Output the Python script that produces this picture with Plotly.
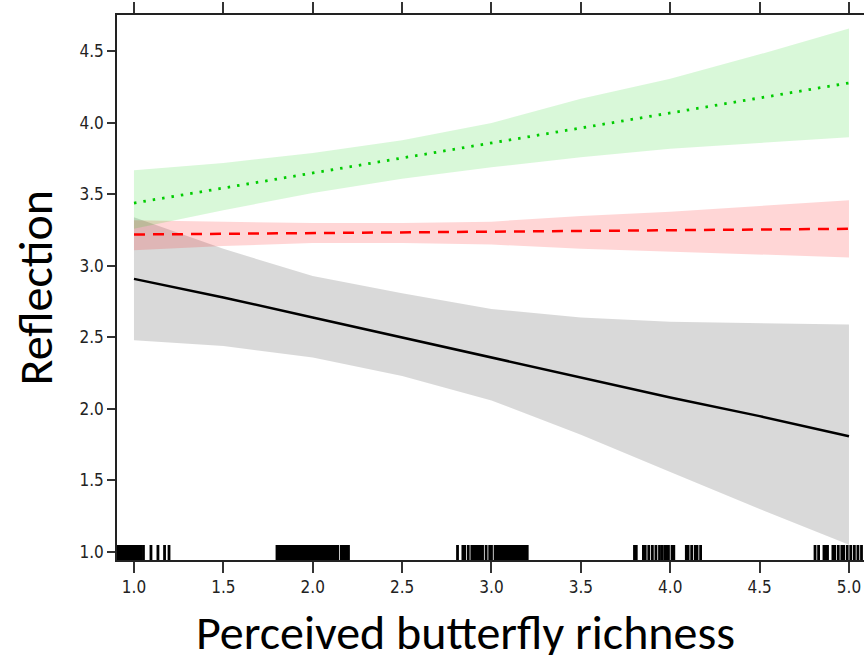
import plotly.graph_objects as go

# Effect of perceived butterfly richness on reflection, three groups
x_grid = [1.0, 1.5, 2.0, 2.5, 3.0, 3.5, 4.0, 4.5, 5.0]

black_fit = [2.91, 2.78, 2.64, 2.50, 2.36, 2.22, 2.08, 1.95, 1.81]
black_lo = [2.48, 2.44, 2.36, 2.23, 2.06, 1.82, 1.56, 1.30, 1.05]
black_hi = [3.34, 3.12, 2.93, 2.81, 2.70, 2.64, 2.61, 2.60, 2.59]

red_fit = [3.22, 3.225, 3.23, 3.235, 3.24, 3.245, 3.25, 3.255, 3.26]
red_lo = [3.11, 3.14, 3.16, 3.16, 3.15, 3.12, 3.10, 3.08, 3.06]
red_hi = [3.32, 3.31, 3.30, 3.30, 3.31, 3.35, 3.38, 3.42, 3.46]

green_fit = [3.44, 3.545, 3.65, 3.755, 3.86, 3.965, 4.07, 4.175, 4.28]
green_lo = [3.26, 3.39, 3.51, 3.61, 3.69, 3.76, 3.82, 3.86, 3.90]
green_hi = [3.67, 3.72, 3.79, 3.88, 4.00, 4.17, 4.31, 4.48, 4.66]

# Observed (jittered) predictor values shown as a rug
rug_x = [
    0.91, 0.92, 0.93, 0.94, 0.95, 0.96, 0.97, 0.98, 0.99, 1.00, 1.01, 1.02,
    1.03, 1.04, 1.053, 1.095, 1.134, 1.171, 1.196,
    1.80, 1.81, 1.82, 1.83, 1.84, 1.85, 1.86, 1.87, 1.88, 1.89, 1.90, 1.91,
    1.92, 1.93, 1.94, 1.95, 1.96, 1.97, 1.98, 1.99, 2.00, 2.01, 2.02, 2.03,
    2.04, 2.05, 2.06, 2.07, 2.08, 2.09, 2.10, 2.11, 2.12, 2.13, 2.14,
    2.16, 2.17, 2.18, 2.19, 2.20,
    2.81, 2.84, 2.85, 2.87, 2.89, 2.90, 2.91, 2.92, 2.93, 2.94, 2.95, 2.97,
    2.99, 3.00, 3.02, 3.03, 3.04, 3.05, 3.06, 3.07, 3.08, 3.09, 3.10, 3.11,
    3.12, 3.13, 3.14, 3.15, 3.16, 3.17, 3.18, 3.19, 3.20,
    3.80, 3.81, 3.85, 3.86, 3.88, 3.90, 3.92, 3.94, 3.955, 3.97, 3.98, 3.99,
    4.01, 4.02, 4.09, 4.10, 4.12, 4.14, 4.15, 4.17,
    4.81, 4.83, 4.86, 4.87, 4.88, 4.91, 4.92, 4.94, 4.96, 4.97, 4.99, 5.01,
    5.03, 5.05, 5.07,
]
# rug ticks run from the bottom of the panel up to this level
rug_bottom = 0.944
rug_top = 1.049

tick_vals = [1.0, 1.5, 2.0, 2.5, 3.0, 3.5, 4.0, 4.5, 5.0]
y_tick_vals = [1.0, 1.5, 2.0, 2.5, 3.0, 3.5, 4.0, 4.5]

fig = go.Figure()


def band(lo, hi, fill):
    fig.add_trace(go.Scatter(
        x=x_grid + x_grid[::-1], y=hi + lo[::-1], fill="toself",
        fillcolor=fill, line=dict(width=0), mode="lines",
        hoverinfo="skip", showlegend=False))


band(black_lo, black_hi, "rgba(0,0,0,0.15)")
band(red_lo, red_hi, "rgba(255,0,0,0.16)")
band(green_lo, green_hi, "rgba(0,205,0,0.15)")

fig.add_trace(go.Scatter(x=x_grid, y=black_fit, mode="lines",
                         line=dict(color="black", width=2.5), showlegend=False))
fig.add_trace(go.Scatter(x=x_grid, y=red_fit, mode="lines",
                         line=dict(color="#ff0000", width=2.5, dash="11px,8px"),
                         showlegend=False))
fig.add_trace(go.Scatter(x=x_grid, y=green_fit, mode="lines",
                         line=dict(color="#00cc00", width=2.8, dash="2.5px,7px"),
                         showlegend=False))

# rug: one short vertical segment per observation
rug_seg_x, rug_seg_y = [], []
for v in rug_x:
    rug_seg_x += [v, v, None]
    rug_seg_y += [rug_bottom, rug_top, None]
fig.add_trace(go.Scatter(
    x=rug_seg_x, y=rug_seg_y, mode="lines",
    line=dict(color="black", width=2.8, simplify=False), connectgaps=False,
    hoverinfo="skip", showlegend=False))

tick_font = dict(family="Liberation Sans Narrow, Arial Narrow, DejaVu Sans Condensed, sans-serif",
                 size=17, color="#222")
title_font = dict(family="Carlito, Lato, sans-serif", size=48, color="black")

fig.update_layout(
    width=864, height=655,
    margin=dict(l=117, r=0, t=15, b=95),
    paper_bgcolor="white", plot_bgcolor="white",
    xaxis=dict(range=[0.905, 5.084], tickvals=tick_vals, tickformat=".1f",
               showgrid=False, zeroline=False, showline=True, linecolor="#222",
               linewidth=1.5, mirror="ticks", ticks="outside", ticklen=11,
               tickcolor="#333", tickwidth=1.5, tickfont=tick_font),
    yaxis=dict(range=[0.944, 4.755], tickvals=y_tick_vals, tickformat=".1f",
               showgrid=False, zeroline=False, showline=True, linecolor="#222",
               linewidth=1.5, ticks="outside", ticklen=8, tickcolor="#333",
               tickwidth=1.5, tickfont=tick_font),
    annotations=[
        dict(text="Perceived butterfly richness", xref="paper", yref="paper",
             x=(465 - 117) / 747, y=-(632 - 560) / 545, xanchor="center", yanchor="middle",
             showarrow=False, font=title_font),
        dict(text="Reflection", xref="paper", yref="paper",
             x=-(117 - 35) / 747, y=0.5, xanchor="center", yanchor="middle", textangle=-90,
             showarrow=False, font=title_font),
    ],
)

fig.write_html("out.html")
